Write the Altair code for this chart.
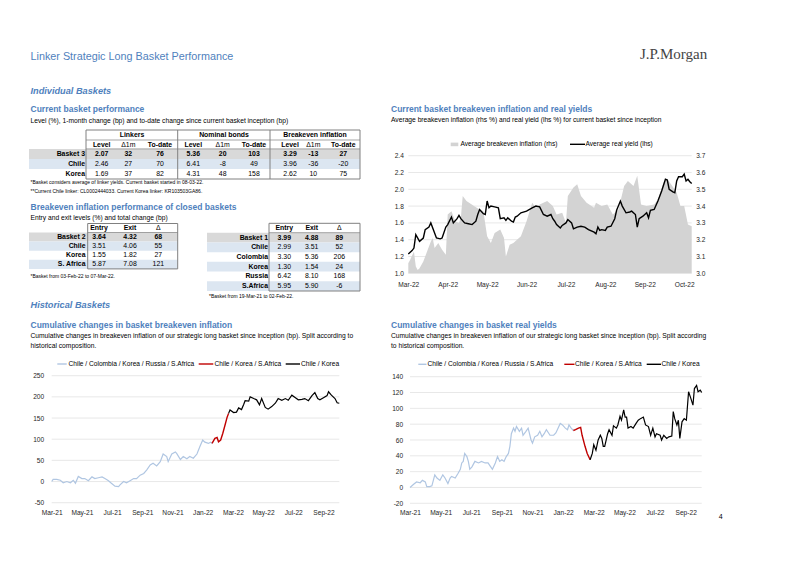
import altair as alt
import pandas as pd

# ============================================================ data
# Table 1 - current basket performance
T1_ROWS = ["Basket 3", "Chile", "Korea"]
T1_LINKERS_LEVEL = [2.07, 2.46, 1.69]
T1_LINKERS_D1M = [32, 27, 37]
T1_LINKERS_TODATE = [76, 70, 82]
T1_NOMINAL_LEVEL = [5.36, 6.41, 4.31]
T1_NOMINAL_D1M = [20, -8, 48]
T1_NOMINAL_TODATE = [103, 49, 158]
T1_BEI_LEVEL = [3.29, 3.96, 2.62]
T1_BEI_D1M = [-13, -36, 10]
T1_BEI_TODATE = [27, -20, 75]

# Table 2 / 3 - closed baskets
T2_ROWS = ["Basket 2", "Chile", "Korea", "S. Africa"]
T2_ENTRY = [3.64, 3.51, 1.55, 5.87]
T2_EXIT = [4.32, 4.06, 1.82, 7.08]
T2_CHANGE = [68, 55, 27, 121]

T3_ROWS = ["Basket 1", "Chile", "Colombia", "Korea", "Russia", "S.Africa"]
T3_ENTRY = [3.99, 2.99, 3.30, 1.30, 6.42, 5.95]
T3_EXIT = [4.88, 3.51, 5.36, 1.54, 8.10, 5.90]
T3_CHANGE = [89, 52, 206, 24, 168, -6]

# Chart A - current basket (x = trading day since 08-Mar-22)
A_MONTHS = ["Mar-22", "Apr-22", "May-22", "Jun-22", "Jul-22", "Aug-22", "Sep-22", "Oct-22"]
A_LABEL_STEP = 21
A_LAST = 151
A_RY_IDX = [0, 2, 3, 4, 6, 8, 9, 11, 12, 15, 17, 18, 20, 21, 23, 24, 26, 27, 28, 30, 32, 34, 36, 37,
            38, 40, 41, 42, 43, 44, 46, 48, 49, 51, 52, 53, 55, 56, 57, 58, 60, 63, 66, 68, 70, 72,
            74, 76, 77, 78, 79, 81, 82, 84, 85, 87, 88, 90, 92, 94, 96, 99, 100, 101, 102, 103, 105,
            106, 108, 110, 111, 113, 114, 116, 118, 119, 121, 122, 123, 125, 127, 128, 129, 131, 133,
            135, 137, 138, 139, 141, 142, 143, 144, 146, 147, 148, 149, 150, 151]
A_RY_VAL = [1.23, 1.27, 1.30, 1.46, 1.38, 1.42, 1.52, 1.55, 1.60, 1.42, 1.41, 1.42, 1.55, 1.58, 1.67,
            1.60, 1.65, 1.69, 1.65, 1.60, 1.59, 1.58, 1.62, 1.70, 1.76, 1.71, 1.70, 1.86, 1.78, 1.80,
            1.79, 1.78, 1.65, 1.66, 1.63, 1.66, 1.62, 1.61, 1.67, 1.68, 1.72, 1.74, 1.78, 1.80, 1.79,
            1.70, 1.68, 1.70, 1.65, 1.62, 1.58, 1.54, 1.57, 1.60, 1.64, 1.60, 1.53, 1.55, 1.56, 1.55,
            1.52, 1.49, 1.47, 1.55, 1.51, 1.52, 1.51, 1.55, 1.56, 1.65, 1.75, 1.86, 1.80, 1.72, 1.73,
            1.74, 1.70, 1.55, 1.65, 1.68, 1.72, 1.66, 1.75, 1.76, 1.86, 1.98, 2.12, 2.11, 2.00, 1.97,
            1.96, 2.10, 2.15, 2.15, 2.18, 2.10, 2.12, 2.09, 2.07]
A_BE_IDX = [0, 1, 3, 4, 5, 6, 8, 10, 12, 13, 14, 16, 17, 18, 20, 21, 23, 25, 27, 28, 29, 31, 35, 38,
            40, 42, 44, 46, 49, 51, 52, 54, 56, 60, 63, 66, 68, 70, 74, 77, 79, 82, 84, 85, 88, 90,
            92, 95, 99, 100, 103, 106, 109, 112, 115, 117, 120, 122, 124, 127, 131, 133, 136, 138,
            140, 143, 145, 147, 149, 151]
A_BE_VAL = [3.06, 3.08, 3.13, 3.04, 3.02, 3.03, 3.07, 3.13, 3.19, 3.21, 3.15, 3.18, 3.16, 3.14, 3.11,
            3.35, 3.37, 3.31, 3.30, 3.33, 3.46, 3.43, 3.40, 3.38, 3.37, 3.22, 3.18, 3.24, 3.26, 3.21,
            3.10, 3.17, 3.18, 3.22, 3.31, 3.42, 3.39, 3.41, 3.43, 3.40, 3.35, 3.36, 3.30, 3.46, 3.51,
            3.53, 3.46, 3.42, 3.39, 3.42, 3.40, 3.41, 3.35, 3.38, 3.52, 3.55, 3.52, 3.58, 3.41, 3.40,
            3.41, 3.44, 3.54, 3.56, 3.53, 3.48, 3.40, 3.40, 3.29, 3.28]
A_LHS_TICKS = [1.0, 1.2, 1.4, 1.6, 1.8, 2.0, 2.2, 2.4]
A_RHS_TICKS = [3.0, 3.1, 3.2, 3.3, 3.4, 3.5, 3.6, 3.7]

# Charts B / C - history (x = trading day since 19-Mar-21)
H_MONTHS = ["Mar-21", "May-21", "Jul-21", "Sep-21", "Nov-21", "Jan-22", "Mar-22", "May-22", "Jul-22", "Sep-22"]
H_LABEL_STEP = 42
H_LAST = 400
SERIES_NAMES = ["Chile / Colombia / Korea / Russia / S.Africa", "Chile / Korea / S.Africa", "Chile / Korea"]

B1_IDX = [0, 2, 7, 12, 16, 21, 26, 30, 33, 37, 42, 46, 51, 56, 60, 65, 70, 74, 79, 83, 88, 93, 95, 100,
          104, 109, 114, 118, 123, 128, 132, 137, 141, 146, 151, 155, 160, 162, 167, 172, 174, 179, 183,
          188, 192, 197, 202, 206, 210, 213, 218, 221, 223]
B1_VAL = [0, 5, 5, 3, -3, 0, -3, 3, -4, 12, 7, 7, 2, 11, 7, 9, 11, 7, 2, -4, -11, -12, -8, 0, -3, 2, 7,
          7, 15, 19, 27, 39, 43, 37, 47, 65, 59, 47, 65, 70, 66, 52, 59, 54, 59, 55, 65, 82, 98, 93, 90,
          93, 90]
B2_IDX = [223, 227, 230, 232, 235, 238, 241, 244, 246]
B2_VAL = [90, 102, 104, 94, 98, 114, 133, 152, 161]
B3_IDX = [246, 248, 253, 257, 260, 264, 267, 269, 274, 276, 281, 285, 289, 292, 297, 301, 306, 311, 315,
          320, 325, 329, 334, 338, 343, 348, 352, 357, 362, 366, 370, 373, 378, 383, 385, 389, 394, 397, 400]
B3_VAL = [161, 169, 163, 164, 174, 170, 182, 191, 190, 200, 196, 193, 181, 196, 175, 171, 177, 185, 196,
          192, 196, 192, 204, 199, 193, 194, 196, 191, 203, 210, 196, 193, 198, 203, 212, 204, 196, 186, 185]
B_TICKS = [-50, 0, 50, 100, 150, 200, 250]

C1_IDX = [0, 5, 9, 14, 17, 21, 23, 27, 30, 32, 34, 37, 41, 45, 48, 52, 55, 57, 62, 66, 69, 71, 73, 75,
          78, 80, 82, 85, 89, 94, 98, 103, 107, 110, 113, 117, 120, 123, 126, 129, 132, 135, 137, 139,
          142, 144, 146, 150, 153, 155, 159, 162, 166, 168, 171, 175, 178, 181, 184, 187, 192, 197, 200,
          203, 206, 209, 213, 216, 218, 221, 224]
C1_VAL = [0, 4, 7, 6, 9, 7, 1, 1, 2, 9, 16, 12, 9, 16, 12, 5, 12, 14, 12, 18, 23, 31, 33, 43, 39, 33,
          23, 26, 33, 31, 33, 31, 31, 27, 23, 31, 39, 33, 35, 33, 39, 43, 52, 68, 75, 71, 77, 71, 75,
          66, 71, 75, 60, 56, 64, 66, 71, 64, 68, 73, 66, 66, 69, 75, 81, 79, 75, 73, 79, 75, 72]
C2_IDX = [224, 227, 231, 234, 236, 240, 243, 247]
C2_VAL = [72, 73, 75, 76, 66, 52, 43, 35]
C3_IDX = [247, 250, 252, 255, 258, 261, 263, 265, 267, 271, 273, 277, 279, 283, 285, 288, 290, 293, 295,
          297, 299, 303, 306, 310, 313, 316, 320, 323, 327, 330, 333, 336, 338, 343, 345, 348, 352, 355,
          359, 361, 363, 366, 368, 370, 373, 376, 379, 382, 385, 388, 390, 393, 395, 398, 400]
C3_VAL = [35, 43, 54, 47, 60, 66, 62, 52, 52, 68, 73, 66, 78, 75, 79, 90, 85, 98, 89, 89, 75, 77, 75,
          81, 85, 87, 89, 79, 77, 66, 75, 64, 68, 66, 60, 66, 62, 64, 65, 96, 87, 79, 85, 62, 83, 87,
          85, 121, 113, 104, 125, 129, 121, 123, 120]
C_TICKS = [-20, 0, 20, 40, 60, 80, 100, 120, 140]

# ============================================================ styles / layout
W, H = 786, 551
FONT = '"Liberation Sans", Arial, sans-serif'
SERIF = '"Liberation Serif", "Times New Roman", serif'
BLUE = "#4f81bd"
ROW_GREY = "#d9d9d9"
ROW_BLUE = "#dce6f1"
BORDER = "#808080"
GRID = "#dedede"
AREA_GREY = "#d3d3d3"
LIGHT = "#b0c6e2"
RED = "#c00000"
BLACK = "#000000"

FS_TITLE = 10.8
FS_SECTION = 9.2
FS_HEAD = 8.5
FS_SUB = 6.7
FS_TABLE = 6.9
FS_LEGEND = 6.6
FS_AXIS = 6.6
FS_FOOT = 5.0


def P(v):
    """page pixel -> chart pixel (page has an 8px margin)"""
    return v - 8


ONE = pd.DataFrame({"k": [0]})
L = []


def txt(s, x, y, size=FS_SUB, bold=False, italic=False, color="#000000", align="left", font=FONT):
    return alt.Chart(ONE).mark_text(
        text=s, align=align, baseline="middle", fontSize=size,
        fontWeight="bold" if bold else "normal",
        fontStyle="italic" if italic else "normal", color=color, font=font,
    ).encode(x=alt.value(P(x)), y=alt.value(P(y)))


def hline(x1, x2, y, width=0.7, color=BORDER):
    return alt.Chart(ONE).mark_rule(color=color, strokeWidth=width).encode(
        x=alt.value(P(x1)), x2=alt.value(P(x2)), y=alt.value(P(y)))


def vline(x, y1, y2, width=0.7, color=BORDER):
    return alt.Chart(ONE).mark_rule(color=color, strokeWidth=width).encode(
        x=alt.value(P(x)), y=alt.value(P(y1)), y2=alt.value(P(y2)))


def table(rows, columns, col_x, label_right, head_line, bottom, bg_left, bg_right):
    n = len(rows)
    h = (bottom - head_line) / n
    rdf = pd.DataFrame({"row": rows, "i": list(range(n))})
    recs = []
    for key, vals, fmt in columns:
        for i, (r, v) in enumerate(zip(rows, vals)):
            recs.append({"row": r, "i": i, "col": key, "text": fmt.format(v)})
    cdf = pd.DataFrame(recs)
    band = alt.Scale(type="band", domain=rows, range=[P(head_line), P(bottom)],
                     paddingInner=0, paddingOuter=0)
    pnt = alt.Scale(type="point", domain=rows,
                    range=[P(head_line + h / 2), P(bottom - h / 2)], padding=0)
    out = []
    for flt, colr in (("datum.i == 0", ROW_GREY), ("datum.i % 2 == 1", ROW_BLUE)):
        out.append(alt.Chart(rdf).transform_filter(flt).mark_rect(color=colr).encode(
            y=alt.Y("row:N", scale=band, axis=None),
            x=alt.value(P(bg_left)), x2=alt.value(P(bg_right))))
    out.append(alt.Chart(rdf).mark_text(
        align="right", baseline="middle", fontSize=FS_TABLE, fontWeight="bold", font=FONT, color="#000").encode(
        y=alt.Y("row:N", scale=pnt, axis=None), x=alt.value(P(label_right)), text="row:N"))
    for (key, _, _), x in zip(columns, col_x):
        for bold, flt in ((True, "datum.i == 0"), (False, "datum.i > 0")):
            out.append(alt.Chart(cdf).transform_filter(
                "datum.col == '%s' && %s" % (key, flt)).mark_text(
                align="center", baseline="middle", fontSize=FS_TABLE, font=FONT,
                fontWeight="bold" if bold else "normal", color="#000").encode(
                y=alt.Y("row:N", scale=pnt, axis=None), x=alt.value(P(x)), text="text:N"))
    return out


def month_axis(labels, step, y_img, pad):
    expr = "[" + ",".join("'%s'" % m for m in labels) + "][round(datum.value / %d)]" % step
    return alt.Axis(orient="bottom", offset=P(y_img) - H,
                    values=[k * step for k in range(len(labels))],
                    labelExpr=expr, labelPadding=pad, labelBaseline="middle",
                    labelAlign="center", title=None)


def grid(values, xs, ys, x0, x1):
    gdf = pd.DataFrame({"v": values})
    return alt.Chart(gdf).mark_rule(color=GRID, strokeWidth=0.7).encode(
        y=alt.Y("v:Q", scale=ys, axis=None),
        x=alt.XDatum(x0, type="quantitative", scale=xs, axis=None),
        x2=alt.X2Datum(x1))


def series(idx, val):
    return pd.DataFrame({"i": idx, "v": val})


# ============================================================ page header
L.append(txt("Linker Strategic Long Basket Performance", 30.5, 56.8, FS_TITLE, color=BLUE))
L.append(txt("J.P.Morgan", 640, 54, 15, color="#444444", font=SERIF))
L.append(txt("Individual Baskets", 30.5, 90.5, FS_SECTION, bold=True, italic=True, color=BLUE))

# ============================================================ table 1
L.append(txt("Current basket performance", 30.5, 109.3, FS_HEAD, bold=True, color=BLUE))
L.append(txt("Level (%), 1-month change (bp) and to-date change since current basket inception (bp)",
             30.5, 120.7))
T1_COLS = [("ll", T1_LINKERS_LEVEL, "{:.2f}"), ("ld", T1_LINKERS_D1M, "{:d}"), ("lt", T1_LINKERS_TODATE, "{:d}"),
           ("nl", T1_NOMINAL_LEVEL, "{:.2f}"), ("nd", T1_NOMINAL_D1M, "{:d}"), ("nt", T1_NOMINAL_TODATE, "{:d}"),
           ("bl", T1_BEI_LEVEL, "{:.2f}"), ("bd", T1_BEI_D1M, "{:d}"), ("bt", T1_BEI_TODATE, "{:d}")]
T1_X = [101.7, 128.3, 160, 193.3, 222.7, 254, 290, 313.3, 343.3]
L += table(T1_ROWS, T1_COLS, T1_X, 85, 148.9, 179, 29, 360)
for name, x in (("Linkers", 132), ("Nominal bonds", 224), ("Breakeven inflation", 315)):
    L.append(txt(name, x, 135.3, FS_TABLE, bold=True, align="center"))
for name, x in zip(["Level", "\u0394" + "1m", "To-date"] * 3, T1_X):
    L.append(txt(name, x, 144.7, FS_TABLE, bold=name != "\u03941m", align="center"))
L.append(hline(86, 360, 130, 1))
L.append(hline(86, 360, 140))
L.append(hline(86, 360, 148.9))
L.append(hline(86, 360, 179, 1))
for x in (86, 177.7, 270, 360):
    L.append(vline(x, 130, 179, 1))
L.append(txt("*Basket considers average of linker yields. Current basket started in 08-03-22.", 30.5, 182.4, FS_FOOT))
L.append(txt("**Current Chile linker: CL0002444033. Current Korea linker: KR103503GA86.", 30.5, 190.6, FS_FOOT))

# ============================================================ tables 2 and 3
L.append(txt("Breakeven inflation performance of closed baskets", 30.5, 206.7, FS_HEAD, bold=True, color=BLUE))
L.append(txt("Entry and exit levels (%) and total change (bp)", 30.5, 218.3))

T2_COLS = [("e", T2_ENTRY, "{:.2f}"), ("x", T2_EXIT, "{:.2f}"), ("d", T2_CHANGE, "{:d}")]
T2_X = [99, 130, 158.3]
L += table(T2_ROWS, T2_COLS, T2_X, 85.5, 232.5, 268.9, 29, 177.7)
for name, x in zip(["Entry", "Exit", "\u0394"], T2_X):
    L.append(txt(name, x, 228, FS_TABLE, bold=name != "\u0394", align="center"))
L.append(hline(87.7, 177.7, 223.5, 1))
L.append(hline(87.7, 177.7, 232.5))
L.append(hline(87.7, 177.7, 268.9, 1))
for x in (87.7, 177.7):
    L.append(vline(x, 223.5, 268.9, 1))
L.append(txt("*Basket from 03-Feb-22 to 07-Mar-22.", 30.5, 276, FS_FOOT))

T3_COLS = [("e", T3_ENTRY, "{:.2f}"), ("x", T3_EXIT, "{:.2f}"), ("d", T3_CHANGE, "{:d}")]
T3_X = [284.3, 311.7, 339.3]
L += table(T3_ROWS, T3_COLS, T3_X, 268, 232.7, 291, 207, 360)
for name, x in zip(["Entry", "Exit", "\u0394"], T3_X):
    L.append(txt(name, x, 228.3, FS_TABLE, bold=name != "\u0394", align="center"))
L.append(hline(269, 360, 223.3, 1))
L.append(hline(269, 360, 232.7))
L.append(hline(269, 360, 291, 1))
for x in (269, 360):
    L.append(vline(x, 223.3, 291, 1))
L.append(txt("*Basket from 19-Mar-21 to 02-Feb-22.", 209, 296, FS_FOOT))

L.append(txt("Historical Baskets", 30.5, 305, FS_SECTION, bold=True, italic=True, color=BLUE))

# ============================================================ chart A
L.append(txt("Current basket breakeven inflation and real yields", 391, 109, FS_HEAD, bold=True, color=BLUE))
L.append(txt("Average breakeven inflation (rhs %) and real yield (lhs %) for current basket since inception",
             391, 120.3))
XA = alt.Scale(domain=[0, A_LAST], range=[P(408.3), P(691.7)], nice=False, zero=False)
YA_L = alt.Scale(domain=[1.0, 2.4], range=[P(273.3), P(155.7)], nice=False, zero=False)
YA_R = alt.Scale(domain=[3.0, 3.7], range=[P(273.3), P(155.7)], nice=False, zero=False)
L.append(grid(A_LHS_TICKS, XA, YA_L, 0, A_LAST))
L.append(alt.Chart(series(A_BE_IDX, A_BE_VAL)).mark_area(color=AREA_GREY).encode(
    x=alt.X("i:Q", scale=XA, axis=None),
    y=alt.Y("v:Q", scale=YA_R, axis=alt.Axis(orient="right", offset=P(691.7) - W, values=A_RHS_TICKS,
                                               format=".1f", labelPadding=4, title=None)),
    y2=alt.Y2Datum(3.0)))
L.append(alt.Chart(series(A_RY_IDX, A_RY_VAL)).mark_line(color=BLACK, strokeWidth=1.4).encode(
    x=alt.X("i:Q", scale=XA, axis=month_axis(A_MONTHS, A_LABEL_STEP, 273.3, 11)),
    y=alt.Y("v:Q", scale=YA_L, axis=alt.Axis(orient="left", offset=-P(408.3), values=A_LHS_TICKS,
                                               format=".1f", labelPadding=5, title=None))))
# legend A
L.append(alt.Chart(ONE).mark_rect(color=AREA_GREY).encode(
    x=alt.value(P(450.7)), x2=alt.value(P(458.3)), y=alt.value(P(142.6)), y2=alt.value(P(146.2))))
L.append(txt("Average breakeven inflation (rhs)", 460.5, 144.3, FS_LEGEND))
L.append(hline(570, 585, 144.3, 1.4, BLACK))
L.append(txt("Average real yield (lhs)", 585.5, 144.3, FS_LEGEND))

# ============================================================ chart B
L.append(txt("Cumulative changes in basket breakeven inflation", 30.5, 325, FS_HEAD, bold=True, color=BLUE))
L.append(txt("Cumulative changes in breakeven inflation of our strategic long basket since inception (bp). "
             "Split according to", 30.5, 336))
L.append(txt("historical composition.", 30.5, 346))
XB = alt.Scale(domain=[0, H_LAST], range=[P(51.7), P(339.3)], nice=False, zero=False)
YB = alt.Scale(domain=[-50, 250], range=[P(502.7), P(375.7)], nice=False, zero=False)
L.append(grid(B_TICKS, XB, YB, 0, H_LAST))
L.append(alt.Chart(series(B1_IDX, B1_VAL)).mark_line(color=LIGHT, strokeWidth=1.2).encode(
    x=alt.X("i:Q", scale=XB, axis=month_axis(H_MONTHS, H_LABEL_STEP, 502.7, 9.6)),
    y=alt.Y("v:Q", scale=YB, axis=alt.Axis(orient="left", offset=-P(51.7), values=B_TICKS,
                                             labelExpr="'' + datum.value", labelPadding=8, title=None))))
L.append(alt.Chart(series(B2_IDX, B2_VAL)).mark_line(color=RED, strokeWidth=1.4).encode(
    x=alt.X("i:Q", scale=XB, axis=None), y=alt.Y("v:Q", scale=YB, axis=None)))
L.append(alt.Chart(series(B3_IDX, B3_VAL)).mark_line(color=BLACK, strokeWidth=1.2).encode(
    x=alt.X("i:Q", scale=XB, axis=None), y=alt.Y("v:Q", scale=YB, axis=None)))
for (x1, x2, tx), col, name in zip([(57.3, 66.7, 68.5), (198.7, 213.3, 214.5), (285.7, 300, 301)],
                                   [LIGHT, RED, BLACK], SERIES_NAMES):
    L.append(hline(x1, x2, 364, 1.4, col))
    L.append(txt(name, tx, 364, FS_LEGEND))

# ============================================================ chart C
L.append(txt("Cumulative changes in basket real yields", 391, 325, FS_HEAD, bold=True, color=BLUE))
L.append(txt("Cumulative changes in breakeven inflation of our strategic long basket since inception (bp). "
             "Split according", 391, 336))
L.append(txt("to historical composition.", 391, 346))
XC = alt.Scale(domain=[0, H_LAST], range=[P(410), P(701.7)], nice=False, zero=False)
YC = alt.Scale(domain=[-20, 140], range=[P(503.3), P(376.7)], nice=False, zero=False)
L.append(grid(C_TICKS, XC, YC, 0, H_LAST))
L.append(alt.Chart(series(C1_IDX, C1_VAL)).mark_line(color=LIGHT, strokeWidth=1.2).encode(
    x=alt.X("i:Q", scale=XC, axis=month_axis(H_MONTHS, H_LABEL_STEP, 503.3, 9)),
    y=alt.Y("v:Q", scale=YC, axis=alt.Axis(orient="left", offset=-P(410), values=C_TICKS,
                                             labelExpr="'' + datum.value", labelPadding=7.3, title=None))))
L.append(alt.Chart(series(C2_IDX, C2_VAL)).mark_line(color=RED, strokeWidth=1.4).encode(
    x=alt.X("i:Q", scale=XC, axis=None), y=alt.Y("v:Q", scale=YC, axis=None)))
L.append(alt.Chart(series(C3_IDX, C3_VAL)).mark_line(color=BLACK, strokeWidth=1.2).encode(
    x=alt.X("i:Q", scale=XC, axis=None), y=alt.Y("v:Q", scale=YC, axis=None)))
for (x1, x2, tx), col, name in zip([(418.3, 426.5, 427.5), (564.3, 574.5, 575), (646.7, 661, 661.5)],
                                   [LIGHT, RED, BLACK], SERIES_NAMES):
    L.append(hline(x1, x2, 364.3, 1.4, col))
    L.append(txt(name, tx, 364.3, FS_LEGEND))

L.append(txt("4", 720.7, 517.3, 7, align="center"))

# ============================================================ assemble
chart = (
    alt.layer(*L)
    .properties(width=W, height=H, autosize=alt.AutoSizeParams(type="none"), padding=0, background="white")
    .resolve_scale(x="independent", y="independent")
    .configure_view(stroke=None)
    .configure_axis(labelFont=FONT, labelFontSize=FS_AXIS, labelColor="#262626", domain=False, ticks=False,
                    grid=False, labelFlush=False, labelOverlap=False)
)
chart.save("out.html", embed_options={"renderer": "svg", "actions": False})
